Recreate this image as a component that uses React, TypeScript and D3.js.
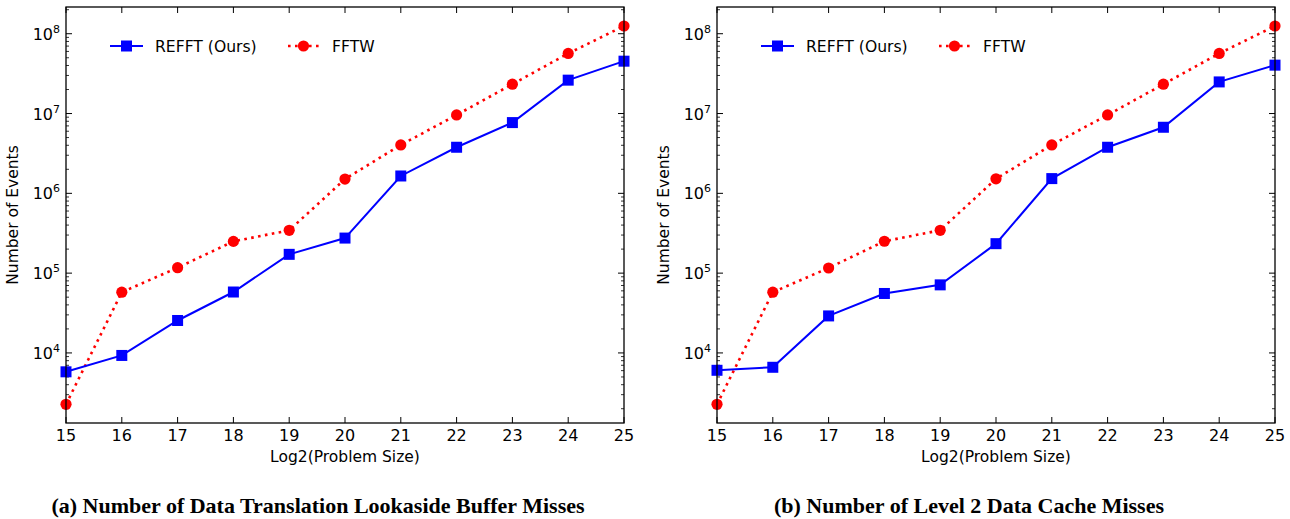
import * as d3 from 'd3';

const problemSizes = [15, 16, 17, 18, 19, 20, 21, 22, 23, 24, 25];

// (a) data TLB misses
const tlbRefft = [5800, 9300, 25500, 58000, 172000, 275000, 1650000, 3780000, 7700000, 26200000, 45300000];
const tlbFftw = [2270, 57700, 117000, 250000, 344000, 1510000, 4040000, 9600000, 23300000, 56600000, 125000000];

// (b) L2 data cache misses
const l2Refft = [6060, 6610, 29100, 55600, 71300, 234000, 1530000, 3780000, 6730000, 24900000, 40400000];
const l2Fftw = [2270, 57700, 116000, 251000, 344000, 1520000, 4040000, 9600000, 23300000, 56600000, 125000000];

const yTickExps = [4, 5, 6, 7, 8];
const seriesNames = ['REFFT (Ours)', 'FFTW'];
const captions = [
  '(a) Number of Data Translation Lookaside Buffer Misses',
  '(b) Number of Level 2 Data Cache Misses',
];

const SANS = 'DejaVu Sans, sans-serif';
const SERIF = 'Liberation Serif, Times New Roman, serif';

const Panel = ({ left, refft, fftw, caption }) => {
  const top = 7;
  const bottom = 423;
  const right = left + 558;

  const x = d3.scaleLinear().domain([15, 25]).range([left, right]);
  const y = d3
    .scaleLog()
    .domain([Math.pow(10, 3.122), Math.pow(10, 8.335)])
    .range([bottom, top]);

  const line = d3
    .line<number>()
    .x((d, i) => x(problemSizes[i]))
    .y((d) => y(d));

  const minor: number[] = [];
  for (let k = 3; k <= 8; k++) {
    for (let m = 2; m <= 9; m++) {
      const v = m * Math.pow(10, k);
      if (v > y.domain()[0] && v < y.domain()[1]) minor.push(v);
    }
  }

  const sq = 11;
  const legY = 46;

  return (
    <g>
      {/* ticks */}
      {problemSizes.map((t) => (
        <g key={'xt' + t}>
          <line x1={x(t)} x2={x(t)} y1={bottom} y2={bottom - 6} stroke="black" strokeWidth={1} />
          <line x1={x(t)} x2={x(t)} y1={top} y2={top + 6} stroke="black" strokeWidth={1} />
          <text x={x(t)} y={441} textAnchor="middle" fontFamily={SANS} fontSize={16}>
            {t}
          </text>
        </g>
      ))}
      {yTickExps.map((e) => {
        const yy = y(Math.pow(10, e));
        return (
          <g key={'yt' + e}>
            <line x1={left} x2={left + 6} y1={yy} y2={yy} stroke="black" strokeWidth={1} />
            <line x1={right} x2={right - 6} y1={yy} y2={yy} stroke="black" strokeWidth={1} />
            <text x={left - 6} y={yy + 6} textAnchor="end" fontFamily={SANS} fontSize={16}>
              10
              <tspan dy={-7} fontSize={11}>
                {e}
              </tspan>
            </text>
          </g>
        );
      })}
      {minor.map((v, i) => (
        <g key={'mn' + i}>
          <line x1={left} x2={left + 3} y1={y(v)} y2={y(v)} stroke="black" strokeWidth={0.8} />
          <line x1={right} x2={right - 3} y1={y(v)} y2={y(v)} stroke="black" strokeWidth={0.8} />
        </g>
      ))}

      {/* series */}
      <path d={line(fftw)} fill="none" stroke="#ff0000" strokeWidth={2.6} strokeDasharray="2.6,4.4" />
      <path d={line(refft)} fill="none" stroke="#0000ff" strokeWidth={2} />
      {fftw.map((v, i) => (
        <circle key={'c' + i} cx={x(problemSizes[i])} cy={y(v)} r={5.6} fill="#ff0000" />
      ))}
      {refft.map((v, i) => (
        <rect
          key={'s' + i}
          x={x(problemSizes[i]) - sq / 2}
          y={y(v) - sq / 2}
          width={sq}
          height={sq}
          fill="#0000ff"
        />
      ))}

      {/* frame */}
      <rect x={left} y={top} width={right - left} height={bottom - top} fill="none" stroke="black" strokeWidth={1.3} />

      {/* legend */}
      <line x1={left + 44} x2={left + 77} y1={legY} y2={legY} stroke="#0000ff" strokeWidth={2} />
      <rect x={left + 60.5 - sq / 2} y={legY - sq / 2} width={sq} height={sq} fill="#0000ff" />
      <text x={left + 89} y={legY + 5.5} fontFamily={SANS} fontSize={15.6}>
        {seriesNames[0]}
      </text>
      <line x1={left + 222} x2={left + 255} y1={legY} y2={legY} stroke="#ff0000" strokeWidth={2.6} strokeDasharray="2.6,4.4" />
      <circle cx={left + 237.5} cy={legY} r={5.6} fill="#ff0000" />
      <text x={left + 266} y={legY + 5.5} fontFamily={SANS} fontSize={15.6}>
        {seriesNames[1]}
      </text>

      {/* axis titles */}
      <text x={(left + right) / 2} y={462} textAnchor="middle" fontFamily={SANS} fontSize={15.5}>
        Log2(Problem Size)
      </text>
      <text
        transform={`translate(${left - 48},${(top + bottom) / 2}) rotate(-90)`}
        textAnchor="middle"
        fontFamily={SANS}
        fontSize={15.5}
      >
        Number of Events
      </text>

      {/* caption */}
      <text x={left + 252} y={513} textAnchor="middle" fontFamily={SERIF} fontWeight="bold" fontSize={22}>
        {caption}
      </text>
    </g>
  );
};

const App = () => {
  return (
    <svg
      width={1290}
      height={519}
      style={{ position: 'absolute', left: 0, top: 0, background: 'white' }}
    >
      <rect width={1290} height={519} fill="white" />
      <Panel left={66} refft={tlbRefft} fftw={tlbFftw} caption={captions[0]} />
      <Panel left={717} refft={l2Refft} fftw={l2Fftw} caption={captions[1]} />
    </svg>
  );
};

export default App;
